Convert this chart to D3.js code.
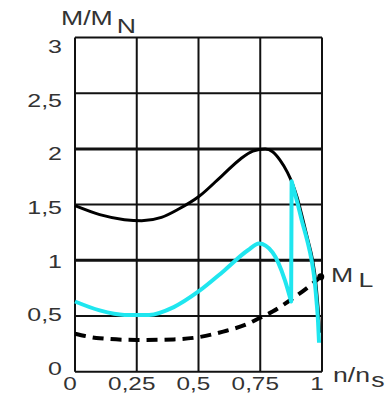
<!DOCTYPE html>
<html>
<head>
<meta charset="utf-8">
<script src="https://cdn.jsdelivr.net/npm/d3@7"></script>
<style>
  body { margin: 0; background: #fff; }
  text { font-family: "Liberation Sans", Arial, sans-serif; fill: #333; }
</style>
</head>
<body>
<div class="chart"></div>
<script>
// tick values and labels
var yTicks = [0, 0.5, 1, 1.5, 2, 2.5, 3];
var yTickLabels = ["0", "0,5", "1", "1,5", "2", "2,5", "3"];
var xTicks = [0, 0.25, 0.5, 0.75, 1];
var xTickLabels = ["0", "0,25", "0,5", "0,75", "1"];
var thickRows = [1, 2];

// motor torque M/MN (black)
var motorN = [0, 0.1, 0.2, 0.27, 0.35, 0.42, 0.5, 0.6, 0.67, 0.72, 0.77, 0.8, 0.83, 0.86, 0.88, 0.9, 0.92, 0.942, 0.962, 0.974, 0.982, 0.988, 0.99];
var motorM = [1.49, 1.41, 1.365, 1.355, 1.385, 1.46, 1.57, 1.77, 1.91, 1.98, 2.0, 1.975, 1.9, 1.79, 1.69, 1.56, 1.39, 1.19, 1.0, 0.82, 0.63, 0.45, 0.35];

// accelerating torque (cyan), before and after the jump
var accelLeftN = [0, 0.1, 0.2, 0.3, 0.4, 0.5, 0.6, 0.7, 0.745, 0.8, 0.85, 0.875];
var accelLeftM = [0.63, 0.55, 0.51, 0.51, 0.58, 0.72, 0.9, 1.09, 1.15, 1.07, 0.82, 0.63];
var accelRightN = [0.877, 0.9, 0.918, 0.94, 0.958, 0.97, 0.978, 0.984, 0.988];
var accelRightM = [1.71, 1.52, 1.36, 1.18, 1.0, 0.82, 0.63, 0.45, 0.26];

// load torque ML (dashed)
var loadN = [0, 0.1, 0.25, 0.4, 0.5, 0.6, 0.7, 0.75, 0.8, 0.87, 0.95, 0.995];
var loadM = [0.34, 0.3, 0.285, 0.29, 0.31, 0.36, 0.43, 0.485, 0.54, 0.64, 0.77, 0.853];

var margin = { top: 37.5, left: 75 };
var width = 247;
var height = 334.2;

var svg = d3.select(".chart")
  .append("svg")
  .attr("width", 385)
  .attr("height", 394);

var chartGroup = svg.append("g")
  .attr("transform", `translate(${margin.left}, ${margin.top})`);

var x = d3.scaleLinear().domain([0, 1]).range([0, width]);
var y = d3.scaleLinear().domain([0, 3]).range([height, 0]);

// grid
chartGroup.selectAll(".hgrid")
  .data(yTicks)
  .enter()
  .append("line")
  .attr("x1", 0)
  .attr("x2", width)
  .attr("y1", d => y(d))
  .attr("y2", d => y(d))
  .attr("stroke", "#111")
  .attr("stroke-width", d => thickRows.indexOf(d) >= 0 ? 3 : 2);

chartGroup.selectAll(".vgrid")
  .data(xTicks)
  .enter()
  .append("line")
  .attr("x1", d => x(d))
  .attr("x2", d => x(d))
  .attr("y1", 0)
  .attr("y2", height)
  .attr("stroke", "#111")
  .attr("stroke-width", 2);

function zip(a, b) {
  return a.map((v, i) => [v, b[i]]);
}

var line = d3.line()
  .x(d => x(d[0]))
  .y(d => y(d[1]))
  .curve(d3.curveMonotoneX);

// motor curve
chartGroup.append("path")
  .attr("d", line(zip(motorN, motorM)))
  .attr("fill", "none")
  .attr("stroke", "#000")
  .attr("stroke-width", 3);

// load curve
chartGroup.append("path")
  .attr("d", line(zip(loadN, loadM)))
  .attr("fill", "none")
  .attr("stroke", "#000")
  .attr("stroke-width", 4)
  .attr("stroke-dasharray", "11,7");

// accelerating torque curve
var accelPath = line(zip(accelLeftN, accelLeftM)) +
  line(zip(accelRightN, accelRightM)).replace(/^M/, "L");
chartGroup.append("path")
  .attr("d", accelPath)
  .attr("fill", "none")
  .attr("stroke", "#1fe6ef")
  .attr("stroke-width", 4)
  .attr("stroke-linejoin", "round");

// ML marker
chartGroup.append("circle")
  .attr("cx", x(loadN[loadN.length - 1]))
  .attr("cy", y(loadM[loadM.length - 1]))
  .attr("r", 3.5)
  .attr("fill", "#000");

// tick labels (source text is stretched horizontally)
var stretch = 1.35;
var labelY = d3.scaleLinear().domain([0, 3]).range([368, 46.7]);

svg.selectAll(".ylabel")
  .data(yTicks)
  .enter()
  .append("text")
  .attr("transform", d => `translate(62, ${labelY(d)}) scale(${stretch}, 1)`)
  .attr("text-anchor", "end")
  .attr("dy", "0.36em")
  .style("font-size", "18.5px")
  .text((d, i) => yTickLabels[i]);

svg.selectAll(".xlabel")
  .data(xTicks)
  .enter()
  .append("text")
  .attr("transform", d => `translate(${margin.left + x(d) - 5}, 390) scale(${stretch}, 1)`)
  .attr("text-anchor", "middle")
  .style("font-size", "18px")
  .text((d, i) => xTickLabels[i]);

// axis titles
function stretchedLabel(px, py, main, sub, subDx, subDy) {
  var g = svg.append("g")
    .attr("transform", `translate(${px}, ${py}) scale(1.3, 1)`);
  g.append("text")
    .style("font-size", "20.5px")
    .text(main)
    .append("tspan")
    .attr("dx", subDx)
    .attr("dy", subDy)
    .text(sub);
}

stretchedLabel(61, 25, "M/M", "N", 3, 8);
stretchedLabel(333, 382, "n/n", "s", 1, 5);
stretchedLabel(331, 282, "M", "L", 4, 5);
</script>
</body>
</html>
